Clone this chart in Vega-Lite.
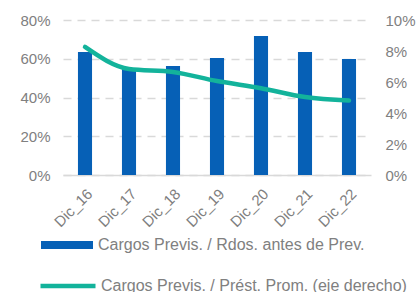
{
  "$schema": "https://vega.github.io/schema/vega-lite/v6.json",
  "width": 308,
  "height": 155,
  "autosize": {"type": "none"},
  "padding": {"left": 63, "top": 20, "right": 47, "bottom": 117},
  "background": "white",
  "config": {
    "view": {"stroke": null},
    "font": "Liberation Sans",
    "axis": {"labelFont": "Liberation Sans", "labelColor": "#808080", "labelFontSize": 15, "ticks": false, "domain": false, "title": null},
    "legend": {"labelFont": "Liberation Sans", "labelColor": "#808080", "labelFontSize": 16, "labelLimit": 400, "padding": 0, "title": null}
  },
  "data": {
    "values": [
      {"cat": "Dic_16", "bar": 0.635, "line": 0.0826},
      {"cat": "Dic_17", "bar": 0.552, "line": 0.0684},
      {"cat": "Dic_18", "bar": 0.563, "line": 0.0665},
      {"cat": "Dic_19", "bar": 0.604, "line": 0.0606},
      {"cat": "Dic_20", "bar": 0.717, "line": 0.056},
      {"cat": "Dic_21", "bar": 0.635, "line": 0.0503},
      {"cat": "Dic_22", "bar": 0.599, "line": 0.048}
    ]
  },
  "encoding": {
    "x": {
      "field": "cat", "type": "nominal", "sort": null,
      "scale": {"paddingInner": 0.68, "paddingOuter": 0.34},
      "axis": {"labelAngle": -45, "domain": true, "domainColor": "#d9d9d9", "domainWidth": 1.5, "labelPadding": 11}
    }
  },
  "layer": [
    {
      "mark": {"type": "bar", "color": "#0660b6"},
      "encoding": {
        "y": {
          "field": "bar", "type": "quantitative",
          "scale": {"domain": [0, 0.8]},
          "axis": {"format": ".0%", "values": [0, 0.2, 0.4, 0.6, 0.8], "grid": true, "gridColor": "#d9d9d9", "gridDash": [8, 6], "gridWidth": 1.5, "labelPadding": 13}
        },
        "fill": {
          "datum": "Cargos Previs. / Rdos. antes de Prev.",
          "scale": {"range": ["#0660b6"]},
          "legend": {"orient": "none", "legendX": -22, "legendY": 199, "symbolType": "M-1,-0.154H1V0.154H-1Z", "symbolSize": 2704, "labelOffset": 5, "symbolStrokeWidth": 0}
        }
      }
    },
    {
      "mark": {"type": "line", "color": "#13b39b", "strokeWidth": 4.5, "interpolate": "monotone", "strokeCap": "round"},
      "encoding": {
        "y": {
          "field": "line", "type": "quantitative",
          "scale": {"domain": [0, 0.1]},
          "axis": {"orient": "right", "format": ".0%", "values": [0, 0.02, 0.04, 0.06, 0.08, 0.1], "grid": false, "labelPadding": 14}
        },
        "stroke": {
          "datum": "Cargos Previs. / Prést. Prom. (eje derecho)",
          "scale": {"range": ["#13b39b"]},
          "legend": {"orient": "none", "legendX": -25, "legendY": 236, "symbolType": "stroke", "symbolSize": 3025, "symbolStrokeWidth": 4.5, "labelOffset": 3}
        }
      }
    }
  ],
  "resolve": {"scale": {"y": "independent"}}
}
